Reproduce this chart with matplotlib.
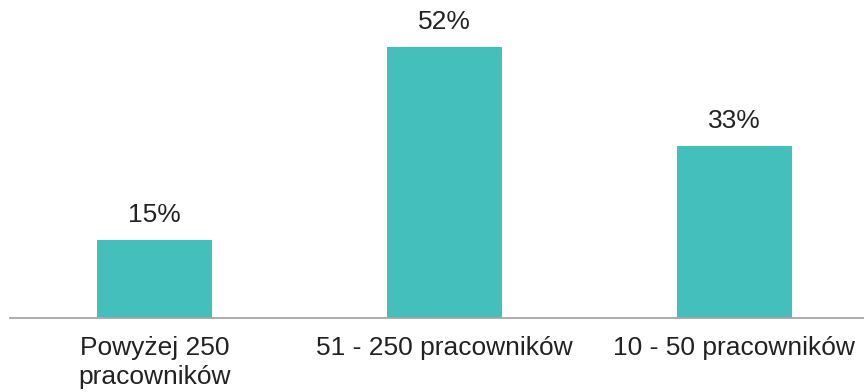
import matplotlib
matplotlib.use("Agg")
import matplotlib.pyplot as plt

categories = ["Powyżej 250\npracowników", "51 - 250 pracowników", "10 - 50 pracowników"]
values = [15, 52, 33]
labels = ["15%", "52%", "33%"]

plt.rcParams["font.family"] = ["Liberation Sans", "DejaVu Sans"]

fig = plt.figure(figsize=(8.64, 3.92), dpi=100)
ax = fig.add_axes([10 / 864, 74 / 392, 854 / 864, 318 / 392])

x = range(len(categories))
bars = ax.bar(x, values, width=0.397, color="#44bfbc", zorder=2)

for xi, v, lab in zip(x, values, labels):
    ax.annotate(lab, (xi, v), xytext=(0, 9), textcoords="offset points",
                ha="center", va="bottom", fontsize=19, color="#222222")

ax.set_xlim(-0.498, 2.448)
ax.set_ylim(0, 61.0)
ax.set_xticks(list(x))
ax.set_xticklabels(categories, fontsize=19, color="#222222", linespacing=1.28)
ax.tick_params(axis="x", length=0, pad=13)
ax.set_yticks([])

for side in ["top", "right", "left"]:
    ax.spines[side].set_visible(False)
ax.spines["bottom"].set_color("#a6a6a6")
ax.spines["bottom"].set_linewidth(1.3)

fig.savefig("out.png", dpi=100)
